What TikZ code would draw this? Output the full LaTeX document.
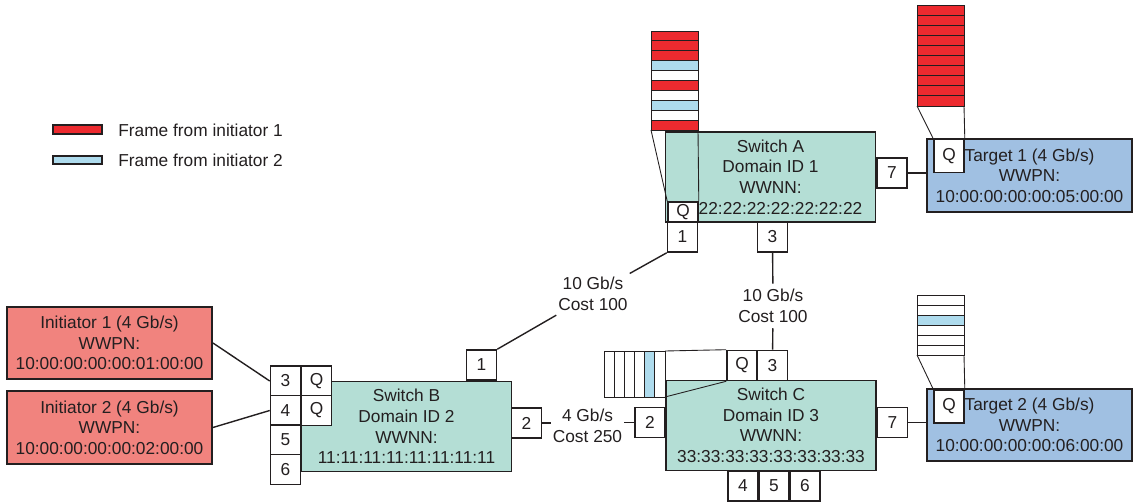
\documentclass[tikz,border=0pt]{standalone}
\usepackage{fontspec}
\setmainfont{Liberation Sans}
\usetikzlibrary{positioning,calc}
\definecolor{swteal}{RGB}{180,222,213}
\definecolor{initred}{RGB}{241,131,126}
\definecolor{tgtblue}{RGB}{160,192,226}
\definecolor{framered}{RGB}{237,42,47}
\definecolor{frameblue}{RGB}{174,219,237}
\definecolor{linegrey}{RGB}{35,31,32}

\begin{document}
\begin{tikzpicture}[x=0.02cm, y=-0.02cm,
    every node/.style={font=\fontsize{9.85}{11.7}\selectfont, text=linegrey},
    switch/.style={rectangle, draw=linegrey, line width=1.1pt, fill=swteal,
                   minimum width=4.2cm, minimum height=1.8cm, align=center, inner sep=0pt},
    host/.style={rectangle, draw=linegrey, line width=1.1pt,
                 minimum width=4.1cm, minimum height=1.45cm, align=center, inner sep=0pt},
    initiator/.style={host, fill=initred},
    target/.style={host, fill=tgtblue},
    port/.style={rectangle, draw=linegrey, line width=0.9pt, fill=white,
                 minimum size=0.6cm, inner sep=0pt},
    link/.style={draw=linegrey, line width=0.8pt},
    speed/.style={align=center, inner xsep=1pt, inner ysep=3pt},
    slot/.style={draw=linegrey, line width=0.5pt},
    legend/.style={anchor=west, inner sep=0pt}
]
    \useasboundingbox (0,0) rectangle (1135,502);

    % switches and end devices
    \node[switch] (swA) at (770.5,177) {Switch A\\Domain ID 1\\WWNN:\\\hspace*{0.4cm}22:22:22:22:22:22:22};
    \node[switch] (swB) at (406.5,426.5) {Switch B\\Domain ID 2\\WWNN:\\11:11:11:11:11:11:11:11};
    \node[switch] (swC) at (771,425.5) {Switch C\\Domain ID 3\\WWNN:\\33:33:33:33:33:33:33:33};

    \node[initiator] (ini1) at (109.5,343) {Initiator 1 (4 Gb/s)\\WWPN:\\10:00:00:00:00:01:00:00};
    \node[initiator] (ini2) at (109.5,427.5) {Initiator 2 (4 Gb/s)\\WWPN:\\10:00:00:00:00:02:00:00};
    \node[target] (tgt1) at (1029.5,175.5) {Target 1 (4 Gb/s)\\WWPN:\\10:00:00:00:00:05:00:00};
    \node[target] (tgt2) at (1029.5,425) {Target 2 (4 Gb/s)\\WWPN:\\10:00:00:00:00:06:00:00};

    % ports
    \node[port] (a1) at (682.5,237) {1};
    \node[port] (a3) at (772.5,237) {3};
    \node[port] (a7) at (892,173) {7};
    \node[port, minimum height=0.4cm] (aq) at (683,212) {Q};

    \node[port] (b1) at (481.5,365) {1};
    \node[port] (b2) at (526.5,423) {2};
    \node[port] (b3) at (285.5,381) {3};
    \node[port] (b4) at (285.5,410.5) {4};
    \node[port] (b5) at (285.5,440) {5};
    \node[port] (b6) at (285.5,469.5) {6};
    \node[port] (bq1) at (316.5,381) {Q};
    \node[port] (bq2) at (316.5,410.5) {Q};

    \node[port] (c2) at (650,422.5) {2};
    \node[port] (c3) at (772.5,365.5) {3};
    \node[port] (cq) at (742,365.5) {Q};
    \node[port] (c4) at (743,486) {4};
    \node[port] (c5) at (774,486) {5};
    \node[port] (c6) at (805,486) {6};
    \node[port] (c7) at (892.5,422.5) {7};

    \node[port, minimum height=0.66cm] (t1q) at (949,156) {Q};
    \node[port, minimum height=0.66cm] (t2q) at (949,406.5) {Q};

    % queues
    \foreach \c [count=\i from 0] in {framered,framered,framered,frameblue,white,framered,white,frameblue,white,framered}
        \filldraw[slot, fill=\c] (651,31+9.9*\i) rectangle ++(47,9.9);
    \foreach \i in {0,...,9}
        \filldraw[slot, fill=framered] (917,5+10.1*\i) rectangle ++(47,10.1);
    \foreach \c [count=\i from 0] in {white,white,frameblue,white,white,white}
        \filldraw[slot, fill=\c] (917,295+10*\i) rectangle ++(47,10);
    \foreach \c [count=\i from 0] in {white,white,white,white,frameblue,white}
        \filldraw[slot, fill=\c] (604+10.17*\i,351) rectangle ++(10.17,46);

    \draw[slot] (651,130) -- (aq.north west);
    \draw[slot] (698,130) -- (aq.north east);
    \draw[slot] (917,106) -- (t1q.north west);
    \draw[slot] (964,106) -- (t1q.north east);
    \draw[slot] (917,355) -- (t2q.north west);
    \draw[slot] (964,355) -- (t2q.north east);
    \draw[slot] (665,351) -- (cq.north west);
    \draw[slot] (665,397) -- (cq.south west);

    % links
    \node[speed] (lab1) at (593,294) {10 Gb/s\\Cost 100};
    \node[speed] (lab2) at (773,306) {10 Gb/s\\Cost 100};
    \node[speed] (lab3) at (587.5,426) {4 Gb/s\\Cost 250};

    \draw[link] (b1.north east) -- (lab1) -- (a1.south west);
    \draw[link] (a3) -- (lab2) -- (c3);
    \draw[link] (b2.east) -- (b2.east -| lab3.west);
    \draw[link] (lab3.east |- c2.west) -- (c2.west);
    \draw[link] (ini1.east) -- (b3.west);
    \draw[link] (ini2.east) -- (b4.west);
    \draw[link] (a7) -- (a7 -| tgt1.west);
    \draw[link] (c7) -- (c7 -| tgt2.west);

    % legend
    \filldraw[link, fill=framered] (53,125) rectangle (102,134);
    \node[legend] (leg1) at (118,130) {Frame from initiator 1};
    \filldraw[link, fill=frameblue] (53,156) rectangle (102,164);
    \node[legend] (leg2) at (118,160) {Frame from initiator 2};
\end{tikzpicture}
\end{document}
